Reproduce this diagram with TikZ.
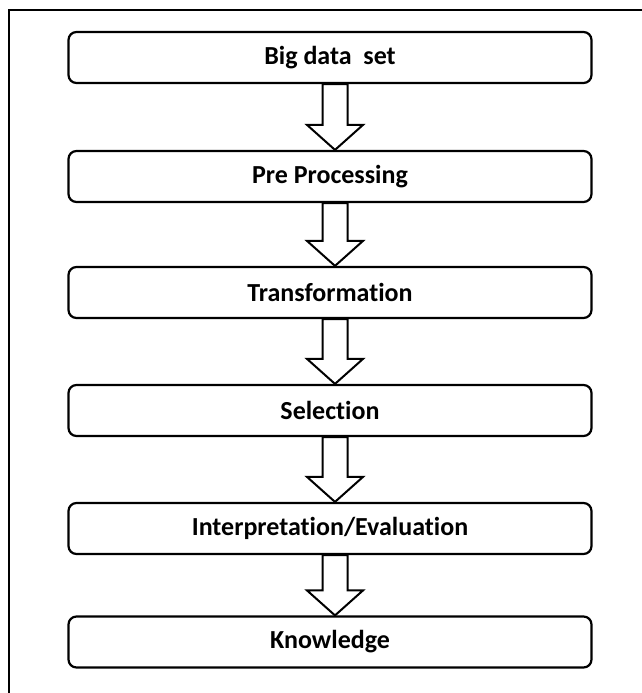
\documentclass[tikz,border=0pt]{standalone}
\usepackage{fontspec}
\setmainfont{Carlito}[Ligatures={NoCommon}]
\usetikzlibrary{calc}
\tikzset{
  stage/.style={draw=black, line width=2.2pt, rounded corners=8pt, fill=white,
    minimum width=523pt, minimum height=51pt, inner sep=0pt,
    font=\fontsize{26pt}{30pt}\selectfont\bfseries},
  fatarrow/.style={draw=black, line width=2pt, fill=white, line join=miter},
  frameline/.style={draw=black, line width=2pt}
}
\begin{document}
\begin{tikzpicture}[x=1pt,y=-1pt]
\useasboundingbox (0,0) rectangle (641,693);
\coordinate (ftop) at (9,10);
\coordinate (fright) at (645,10);
\coordinate (fbot) at (9,697);
\draw[frameline] (fbot) -- (ftop) -- (fright);

\node[stage] (s1) at (330,57.5) {Big data\ \ set};
\node[stage] (s2) at (330,176.5) {Pre Processing};
\node[stage] (s3) at (330,292.5) {Transformation};
\node[stage] (s4) at (330,410.5) {Selection};
\node[stage] (s5) at (330,528.5) {Interpretation/Evaluation};
\node[stage] (s6) at (330,642) {Knowledge};

\foreach \a/\b in {s1/s2, s2/s3, s3/s4, s4/s5, s5/s6}{
  \draw[fatarrow]
    ($(\a.south)+(-7.5,0)$) --
    ($(\b.north)+(-7.5,-25)$) --
    ($(\b.north)+(-23,-25)$) --
    ($(\b.north)+(5,0)$) --
    ($(\b.north)+(33,-25)$) --
    ($(\b.north)+(17.5,-25)$) --
    ($(\a.south)+(17.5,0)$) -- cycle;
}
\end{tikzpicture}
\end{document}
